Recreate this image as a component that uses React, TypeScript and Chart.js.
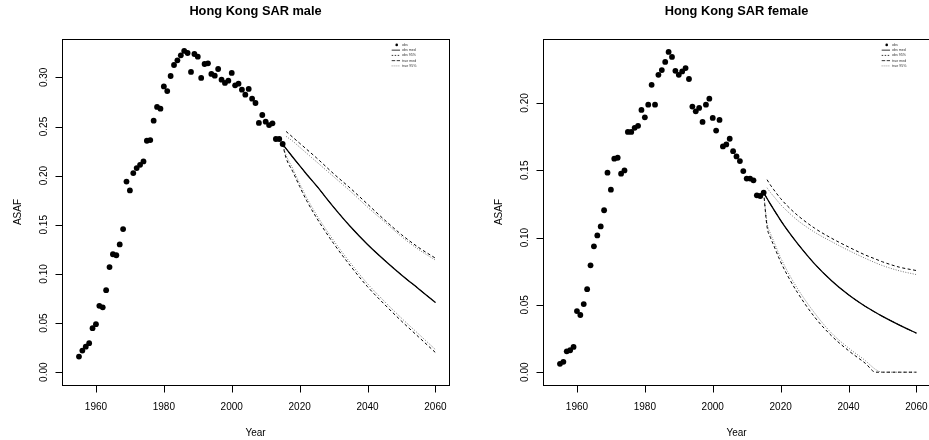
import React, { useEffect, useRef } from "react";
import { Chart, registerables } from "chart.js";

Chart.register(...registerables);

// ---------- data ----------
const obsYears = Array.from({ length: 61 }, (_, i) => 1955 + i);

const maleObs = [
  0.0159, 0.022, 0.026, 0.0295, 0.0448, 0.0489, 0.0675, 0.066, 0.0835, 0.107,
  0.12, 0.119, 0.13, 0.1456, 0.194, 0.185, 0.2026, 0.2077, 0.211, 0.2145,
  0.2355, 0.2362, 0.2559, 0.2699, 0.2681, 0.2908, 0.2861, 0.3014, 0.3126, 0.3173,
  0.3224, 0.3269, 0.3248, 0.3055, 0.3238, 0.3211, 0.2994, 0.3136, 0.3143, 0.3035,
  0.3017, 0.3085, 0.2977, 0.2943, 0.2966, 0.3045, 0.2919, 0.2936, 0.2875, 0.2824,
  0.2882, 0.2783, 0.2739, 0.2536, 0.2617, 0.2549, 0.2515, 0.2532, 0.2373, 0.2373,
  0.2322,
];

const femaleObs = [
  0.0062, 0.0077, 0.0155, 0.0163, 0.0188, 0.0454, 0.0425, 0.0506, 0.0617, 0.0794,
  0.0935, 0.1016, 0.1083, 0.1203, 0.1482, 0.1356, 0.1586, 0.1593, 0.1475, 0.1499,
  0.1785, 0.1785, 0.1815, 0.183, 0.1948, 0.1893, 0.1987, 0.2135, 0.1987, 0.2209,
  0.2244, 0.2305, 0.2379, 0.2342, 0.2239, 0.2209, 0.2234, 0.2259, 0.2178, 0.1973,
  0.1938, 0.1963, 0.1859, 0.1987, 0.2032, 0.1889, 0.1795, 0.1874, 0.1677, 0.1692,
  0.1734, 0.1642, 0.1603, 0.1568, 0.1494, 0.1438, 0.1438, 0.1425, 0.1314, 0.1309,
  0.1334,
];

const maleProjYears = [2015, 2016, 2018, 2020, 2022, 2025, 2030, 2035, 2040, 2045, 2050, 2055, 2060];
const maleObsMed = [0.232, 0.2275, 0.2187, 0.2101, 0.2017, 0.1895, 0.168, 0.148, 0.13, 0.114, 0.099, 0.085, 0.071];
const maleTrueMed = [0.232, 0.2275, 0.2187, 0.2101, 0.2017, 0.1895, 0.168, 0.148, 0.13, 0.114, 0.099, 0.085, 0.071];
const maleObsUp = [null, 0.245, 0.239, 0.233, 0.227, 0.218, 0.202, 0.187, 0.171, 0.155, 0.14, 0.127, 0.116];
const maleObsLo = [0.232, 0.218, 0.204, 0.189, 0.175, 0.157, 0.131, 0.108, 0.087, 0.069, 0.052, 0.036, 0.02];
const maleTrueUp = [null, 0.24, 0.235, 0.229, 0.223, 0.214, 0.199, 0.184, 0.168, 0.153, 0.138, 0.125, 0.114];
const maleTrueLo = [0.232, 0.221, 0.207, 0.192, 0.178, 0.16, 0.134, 0.111, 0.09, 0.072, 0.055, 0.039, 0.023];

const femaleProjYears = [2015, 2016, 2017, 2018, 2020, 2022, 2025, 2030, 2035, 2040, 2045, 2048, 2050, 2055, 2060];
const femaleObsMed = [0.1334, 0.129, 0.1248, 0.1207, 0.1128, 0.1055, 0.0955, 0.0805, 0.068, 0.0575, 0.0488, 0.0443, 0.0415, 0.035, 0.029];
const femaleTrueMed = [0.1334, 0.129, 0.1248, 0.1207, 0.1128, 0.1055, 0.0955, 0.0805, 0.068, 0.0575, 0.0488, 0.0443, 0.0415, 0.035, 0.029];
const femaleObsUp = [null, 0.143, 0.139, 0.1355, 0.129, 0.1235, 0.1165, 0.107, 0.0995, 0.093, 0.087, 0.084, 0.082, 0.078, 0.0755];
const femaleObsLo = [0.1334, 0.108, 0.1, 0.094, 0.082, 0.072, 0.059, 0.041, 0.027, 0.016, 0.0065, 0.0, 0.0, 0.0, 0.0];
const femaleTrueUp = [null, 0.137, 0.1335, 0.1305, 0.1245, 0.1195, 0.1128, 0.104, 0.097, 0.0905, 0.0845, 0.0812, 0.0792, 0.0753, 0.0725];
const femaleTrueLo = [0.1334, 0.111, 0.103, 0.097, 0.085, 0.075, 0.062, 0.044, 0.029, 0.018, 0.0085, 0.002, 0.0, 0.0, 0.0];

const xTicks = [1960, 1980, 2000, 2020, 2040, 2060];
const maleYTicks = [0, 0.05, 0.1, 0.15, 0.2, 0.25, 0.3];
const femaleYTicks = [0, 0.05, 0.1, 0.15, 0.2];
const legendLabels = ["obs", "obs med", "obs 95%", "true med", "true 95%"];

const FONT = '"Liberation Sans", Arial, Helvetica, sans-serif';

const pts = (xs: number[], ys: (number | null)[]) => xs.map((x, i) => ({ x, y: ys[i] }));

type Panel = {
  title: string;
  obs: number[];
  projYears: number[];
  med: number[];
  trueMed: number[];
  obsUp: (number | null)[];
  obsLo: number[];
  trueUp: (number | null)[];
  trueLo: number[];
  yMin: number;
  yMax: number;
  yTicks: number[];
  legendShift: number;
};

const panels: Panel[] = [
  {
    title: "Hong Kong SAR male",
    obs: maleObs,
    projYears: maleProjYears,
    med: maleObsMed,
    trueMed: maleTrueMed,
    obsUp: maleObsUp,
    obsLo: maleObsLo,
    trueUp: maleTrueUp,
    trueLo: maleTrueLo,
    yMin: -0.01304,
    yMax: 0.33904,
    yTicks: maleYTicks,
    legendShift: 57.3,
  },
  {
    title: "Hong Kong SAR female",
    obs: femaleObs,
    projYears: femaleProjYears,
    med: femaleObsMed,
    trueMed: femaleTrueMed,
    obsUp: femaleObsUp,
    obsLo: femaleObsLo,
    trueUp: femaleTrueUp,
    trueLo: femaleTrueLo,
    yMin: -0.00952,
    yMax: 0.24752,
    yTicks: femaleYTicks,
    legendShift: 48.3,
  },
];

const rPlotPlugin = {
  id: "rPlot",
  afterDraw(chart: any, _args: any, opts: any) {
    const { ctx, chartArea: a, scales } = chart;
    const x = scales.x;
    const y = scales.y;
    ctx.save();
    ctx.strokeStyle = "#000";
    ctx.lineWidth = 1;
    ctx.setLineDash([]);
    // box
    const L = Math.round(a.left) + 0.5;
    const T = Math.round(a.top) + 0.5;
    const R = Math.round(a.right) + 0.5;
    const B = Math.round(a.bottom) + 0.5;
    ctx.strokeRect(L, T, R - L, B - T);
    // ticks
    ctx.beginPath();
    for (const t of x.ticks) {
      const px = Math.round(x.getPixelForValue(t.value)) + 0.5;
      ctx.moveTo(px, B);
      ctx.lineTo(px, B + 7);
    }
    for (const t of y.ticks) {
      const py = Math.round(y.getPixelForValue(t.value)) + 0.5;
      ctx.moveTo(L, py);
      ctx.lineTo(L - 7, py);
    }
    ctx.stroke();
    // tick labels
    ctx.fillStyle = "#000";
    ctx.font = `10px ${FONT}`;
    ctx.textAlign = "center";
    ctx.textBaseline = "alphabetic";
    for (const t of x.ticks) {
      ctx.fillText(String(t.value), x.getPixelForValue(t.value), 410.3);
    }
    for (const t of y.ticks) {
      const py = y.getPixelForValue(t.value);
      ctx.save();
      ctx.translate(46.7, py);
      ctx.rotate(-Math.PI / 2);
      ctx.fillText(Number(t.value).toFixed(2), 0, 0);
      ctx.restore();
    }
    // axis titles
    const cx = (a.left + a.right) / 2;
    const cy = (a.top + a.bottom) / 2;
    ctx.fillText("Year", cx, 436);
    ctx.save();
    ctx.translate(20.5, cy);
    ctx.rotate(-Math.PI / 2);
    ctx.fillText("ASAF", 0, 0);
    ctx.restore();
    // main title
    ctx.font = `bold 12.8px ${FONT}`;
    ctx.fillText(opts.title, cx, 15);
    // legend
    const lx = a.right - opts.legendShift;
    const styles = [
      { dot: true },
      { dash: [] as number[], color: "#000" },
      { dash: [1.5, 1.5], color: "#000" },
      { dash: [3.5, 1.5], color: "#000" },
      { dash: [0.8, 1.2], color: "#555" },
    ];
    ctx.font = `3.6px ${FONT}`;
    ctx.textAlign = "left";
    ctx.textBaseline = "middle";
    legendLabels.forEach((lab, i) => {
      const ly = a.top + 5.9 + i * 5.25;
      const s: any = styles[i];
      if (s.dot) {
        ctx.beginPath();
        ctx.fillStyle = "#000";
        ctx.arc(lx + 5, ly, 1.3, 0, Math.PI * 2);
        ctx.fill();
      } else {
        ctx.beginPath();
        ctx.strokeStyle = s.color;
        ctx.lineWidth = 0.8;
        ctx.setLineDash(s.dash);
        ctx.moveTo(lx, ly);
        ctx.lineTo(lx + 8.3, ly);
        ctx.stroke();
      }
      ctx.fillStyle = "#333";
      ctx.fillText(lab, lx + 10.3, ly);
    });
    ctx.restore();
  },
};

function PanelChart({ p, left }: { p: Panel; left: number }) {
  const ref = useRef<HTMLCanvasElement | null>(null);
  useEffect(() => {
    if (!ref.current) return;
    const lineDs = (data: any, color: string, width: number, dash: number[]) => ({
      data,
      showLine: true,
      borderColor: color,
      borderWidth: width,
      borderDash: dash,
      pointRadius: 0,
      pointHoverRadius: 0,
      fill: false,
      cubicInterpolationMode: "monotone" as const,
    });
    const chart = new Chart(ref.current, {
      type: "scatter",
      data: {
        datasets: [
          {
            data: pts(obsYears, p.obs),
            showLine: false,
            pointRadius: 2.9,
            pointBackgroundColor: "#000",
            pointBorderWidth: 0,
            pointBorderColor: "#000",
          } as any,
          lineDs(pts(p.projYears, p.med), "#000", 1.3, []),
          lineDs(pts(p.projYears, p.trueMed), "#000", 1, [7, 3]),
          lineDs(pts(p.projYears, p.obsUp), "#000", 1, [3, 2.5]),
          lineDs(pts(p.projYears, p.obsLo), "#000", 1, [3, 2.5]),
          lineDs(pts(p.projYears, p.trueUp), "#777", 1, [1, 1.5]),
          lineDs(pts(p.projYears, p.trueLo), "#777", 1, [1, 1.5]),
        ],
      },
      options: {
        responsive: false,
        animation: false,
        events: [],
        layout: { padding: { left: 62, right: 32, top: 39, bottom: 55 } },
        plugins: {
          legend: { display: false },
          tooltip: { enabled: false },
          title: { display: false },
          rPlot: { title: p.title, legendShift: p.legendShift },
        } as any,
        scales: {
          x: {
            type: "linear",
            min: 1950,
            max: 2064,
            grid: { display: false, drawTicks: false },
            border: { display: false },
            ticks: { display: false },
            afterBuildTicks: (s: any) => {
              s.ticks = xTicks.map((v) => ({ value: v }));
            },
            afterFit: (s: any) => {
              s.height = 0;
            },
          },
          y: {
            type: "linear",
            min: p.yMin,
            max: p.yMax,
            grid: { display: false, drawTicks: false },
            border: { display: false },
            ticks: { display: false },
            afterBuildTicks: (s: any) => {
              s.ticks = p.yTicks.map((v) => ({ value: v }));
            },
            afterFit: (s: any) => {
              s.width = 0;
            },
          },
        },
      },
      plugins: [rPlotPlugin],
    });
    return () => chart.destroy();
  }, [p]);
  return (
    <canvas
      ref={ref}
      width={481}
      height={440}
      style={{ position: "absolute", left, top: 0, width: 481, height: 440 }}
    />
  );
}

export default function App() {
  return (
    <div
      style={{
        position: "absolute",
        left: 0,
        top: 0,
        width: 929,
        height: 440,
        overflow: "hidden",
        background: "#fff",
      }}
    >
      <PanelChart p={panels[0]} left={0} />
      <PanelChart p={panels[1]} left={481} />
    </div>
  );
}
